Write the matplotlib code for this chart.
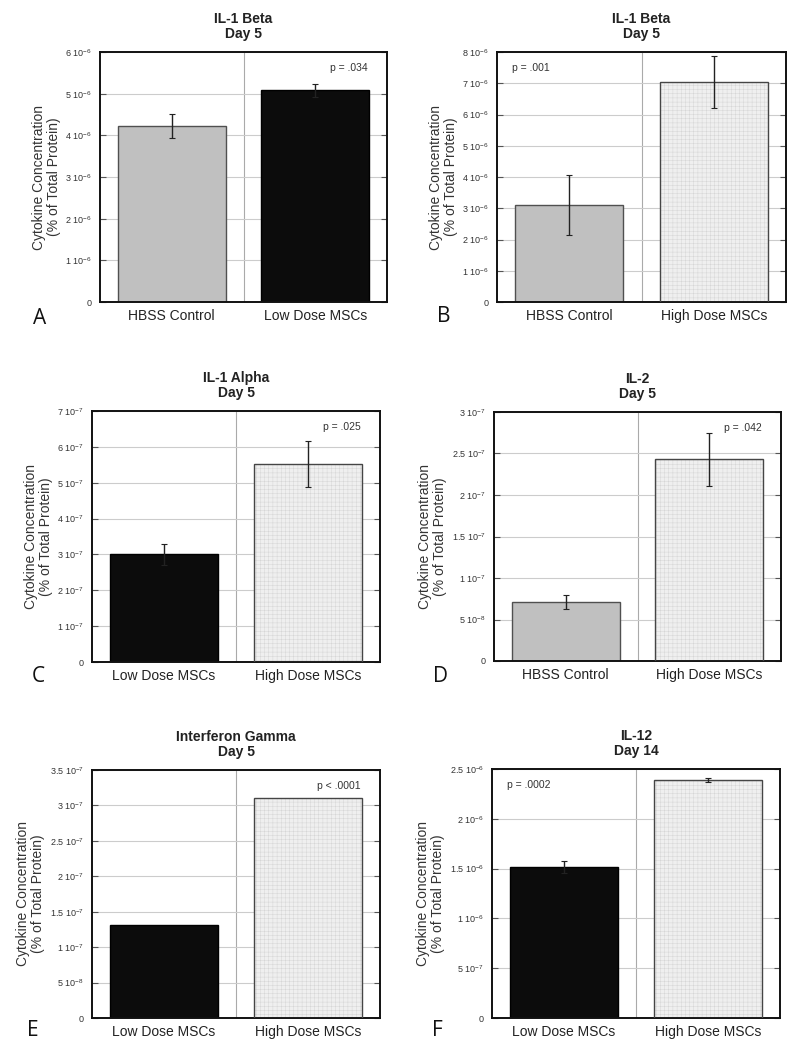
import numpy as np
import matplotlib
matplotlib.use('Agg')
import matplotlib.pyplot as plt

plt.rcParams.update({'font.family': ['Liberation Sans', 'DejaVu Sans'],
                     'mathtext.fontset': 'custom',
                     'mathtext.rm': 'Liberation Sans',
                     'mathtext.it': 'Liberation Sans',
                     'hatch.linewidth': 0.3,
                     'hatch.color': '#d2d2d2'})

# ---- data ----
letters = ['A', 'B', 'C', 'D', 'E', 'F']
titles = ['IL-1 Beta\nDay 5', 'IL-1 Beta\nDay 5', 'IL-1 Alpha\nDay 5',
          'IL-2\nDay 5', 'Interferon Gamma\nDay 5', 'IL-12\nDay 14']
groups = [['HBSS Control', 'Low Dose MSCs'],
          ['HBSS Control', 'High Dose MSCs'],
          ['Low Dose MSCs', 'High Dose MSCs'],
          ['HBSS Control', 'High Dose MSCs'],
          ['Low Dose MSCs', 'High Dose MSCs'],
          ['Low Dose MSCs', 'High Dose MSCs']]
means = [[4.23e-6, 5.08e-6],
         [3.10e-6, 7.04e-6],
         [3.00e-7, 5.52e-7],
         [0.71e-7, 2.43e-7],
         [1.31e-7, 3.10e-7],
         [1.52e-6, 2.385e-6]]
errs = [[0.29e-6, 0.15e-6],
        [0.97e-6, 0.83e-6],
        [0.30e-7, 0.65e-7],
        [0.08e-7, 0.32e-7],
        [0.0, 0.0],
        [0.06e-6, 0.02e-6]]
ymax = [6e-6, 8e-6, 7e-7, 3e-7, 3.5e-7, 2.5e-6]
ystep = [1e-6, 1e-6, 1e-7, 5e-8, 5e-8, 5e-7]
pvals = ['p = .034', 'p = .001', 'p = .025', 'p = .042', 'p < .0001', 'p = .0002']
p_left = [False, True, False, False, False, True]

# axes boxes in pixels: x0, x1, y0(top), y1(bottom)
boxes = [(100, 387, 52, 302), (497, 786, 52, 302),
         (92, 380, 411, 662), (494, 781, 412, 661),
         (92, 380, 770, 1018), (492, 780, 769, 1018)]
# panel letter positions in pixels (left, centre y)
letter_pos = [(33, 318), (437, 317), (32, 676), (433, 676), (27, 1030), (432, 1030)]

W, H = 795, 1050

def bar_style(name):
    if name == 'HBSS Control':
        return dict(color='#c0c0c0', edgecolor='#505050')
    if name == 'Low Dose MSCs':
        return dict(color='#0c0c0c', edgecolor='#000000')
    return dict(color='#efefef', edgecolor='#454545', hatch='++++')

def sci_label(v):
    if v == 0:
        return '0'
    e = int(np.floor(np.log10(v) + 1e-9))
    m = v / 10**e
    return '%g 10$^{%d}$' % (round(m, 2), e)

fig = plt.figure(figsize=(W / 100, H / 100), dpi=100)

for i in range(6):
    x0, x1, y0, y1 = boxes[i]
    ax = fig.add_axes([x0 / W, 1 - y1 / H, (x1 - x0) / W, (y1 - y0) / H])
    xs = [0.5, 1.5]
    for x, name, m, e in zip(xs, groups[i], means[i], errs[i]):
        st = bar_style(name)
        if 'hatch' in st:
            ax.bar(x, m, width=0.75, color=st['color'], hatch=st['hatch'],
                   lw=0, zorder=2)
            ax.bar(x, m, width=0.75, fill=False, edgecolor=st['edgecolor'],
                   lw=1.0, zorder=3)
        else:
            ax.bar(x, m, width=0.75, color=st['color'],
                   edgecolor=st['edgecolor'], lw=1.0, zorder=2)
        if e > 0:
            ax.errorbar(x, m, yerr=e, fmt='none', ecolor='#222222',
                        elinewidth=1.0, capsize=2.5, capthick=0.8, zorder=4)

    ax.set_xlim(0, 2)
    ax.set_ylim(0, ymax[i])
    ticks = np.arange(0, ymax[i] + ystep[i] / 2, ystep[i])
    ax.set_yticks(ticks)
    ax.set_yticklabels([sci_label(t) for t in ticks], fontsize=6.5,
                       color='#333333')
    ax.set_xticks(xs)
    ax.set_xticklabels(groups[i], fontsize=10, color='#222222')
    ax.tick_params(axis='x', length=0, pad=5)
    ax.tick_params(axis='y', direction='in', right=True, length=4,
                   width=0.8, color='#555555', pad=6)
    ax.grid(axis='y', color='#cccccc', lw=0.8, zorder=0)
    ax.axvline(1, color='#aaaaaa', lw=0.8, zorder=0)
    for sp in ax.spines.values():
        sp.set_linewidth(1.4)
        sp.set_color('#111111')

    ax.set_title(titles[i], fontsize=10, fontweight='bold', pad=10,
                 linespacing=1.1, color='#222222')
    ax.set_ylabel('Cytokine Concentration\n(% of Total Protein)',
                  fontsize=10, color='#333333', linespacing=1.1, labelpad=3)

    if p_left[i]:
        ax.text(0.052, 0.935, pvals[i], transform=ax.transAxes, fontsize=7.5,
                ha='left', va='center', color='#333333')
    else:
        ax.text(0.934, 0.935, pvals[i], transform=ax.transAxes, fontsize=7.5,
                ha='right', va='center', color='#333333')

    lx, ly = letter_pos[i]
    fig.text(lx / W, 1 - ly / H, letters[i], fontsize=15,
             family='Open Sans', ha='left', va='center', color='#111111')

fig.savefig('out.png', dpi=100)
